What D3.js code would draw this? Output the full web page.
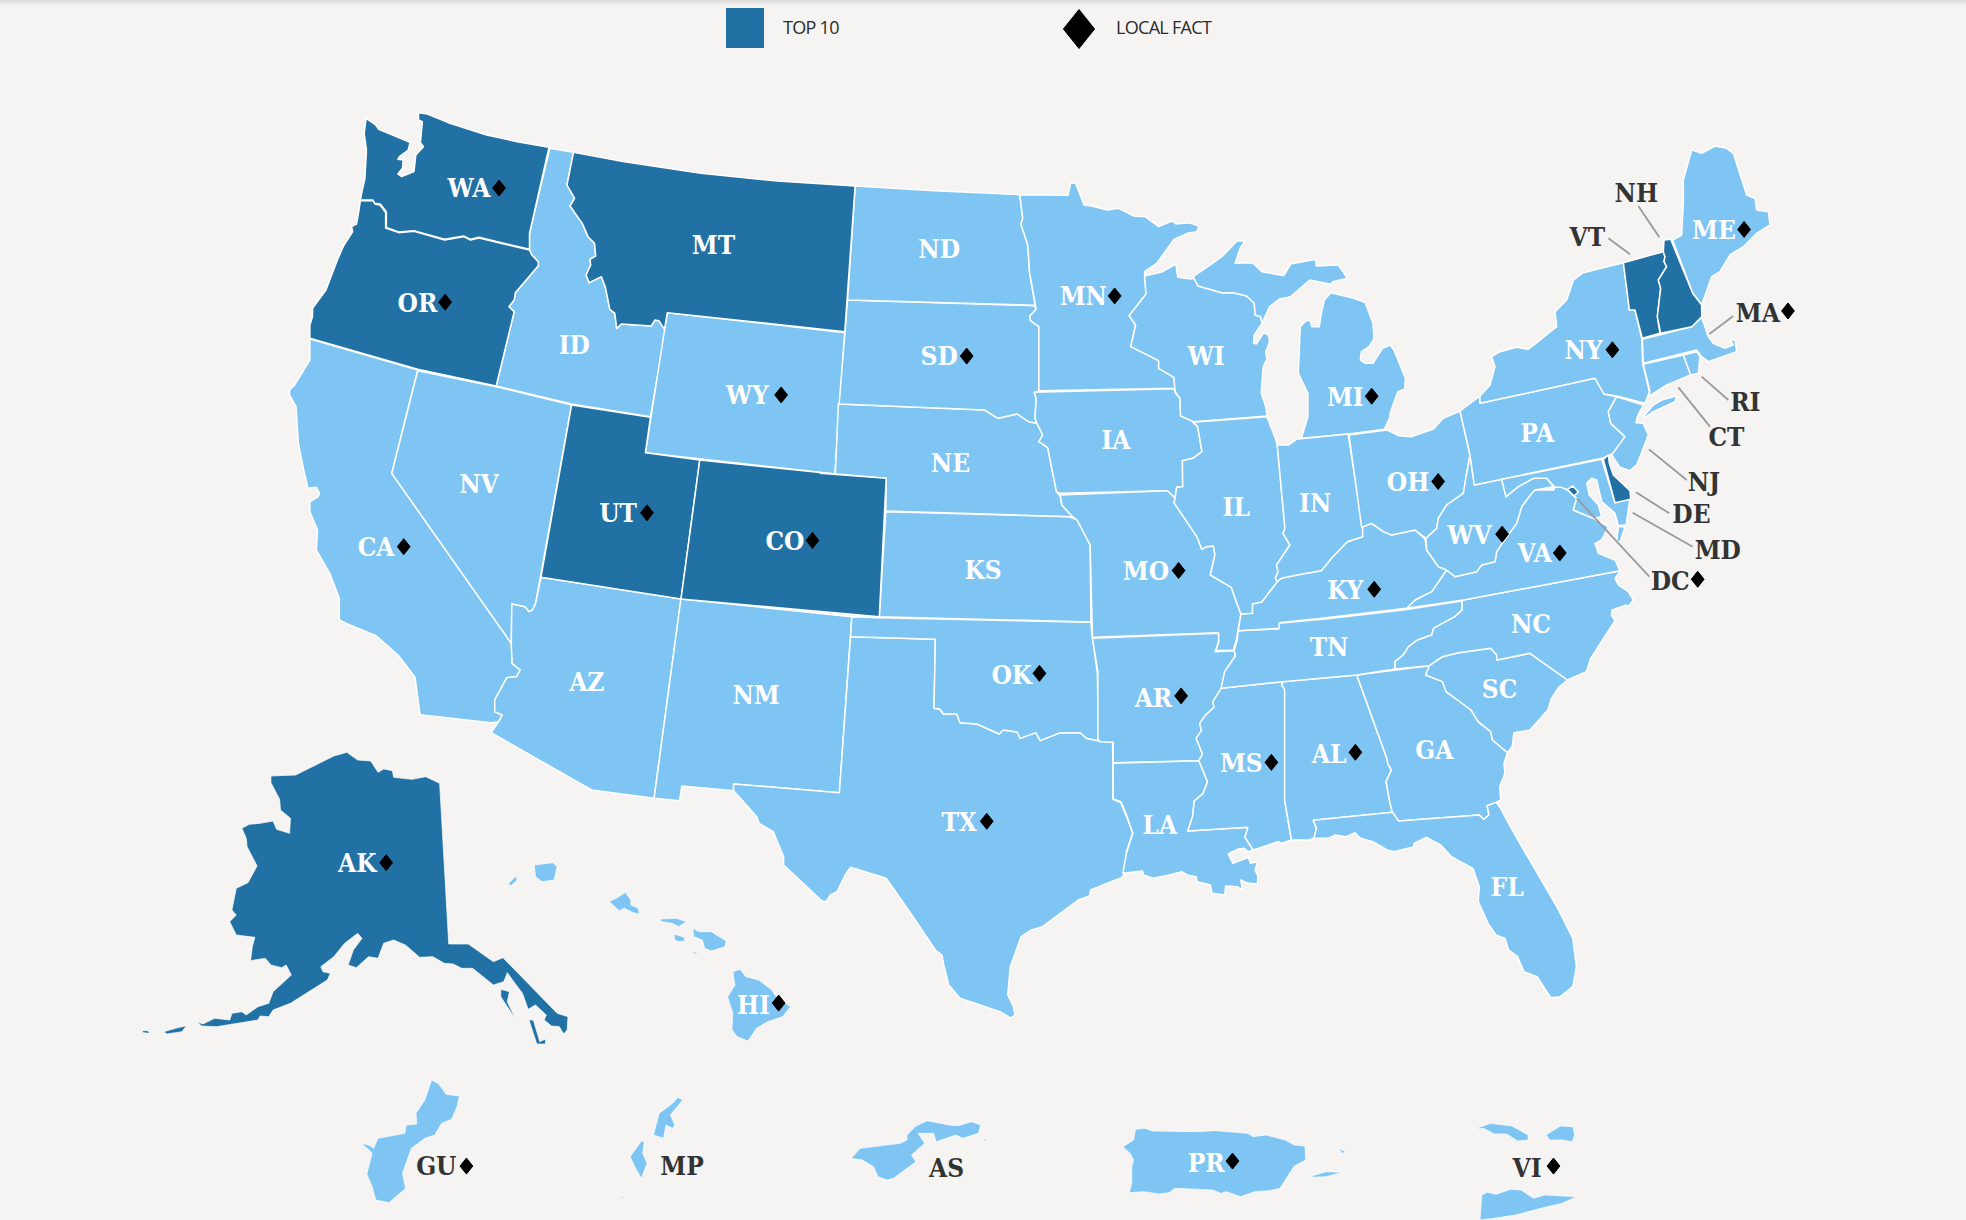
<!DOCTYPE html>
<html><head><meta charset="utf-8">
<script src="https://cdn.jsdelivr.net/npm/d3@7"></script>
<style>html,body{margin:0;padding:0;background:#f5f4f2;overflow:hidden}svg{display:block}</style>
</head><body><svg id="map" width="1966" height="1220"></svg>
<script>
// Traced outlines. Each ring is a string of vertices; a token such as "z1"
// names the survey frame (see frameNames/frameBoxes) the following vertices were read in.
const frameNames = ["o","z1","z2","z3","z4","z5","z6","z7","z8","z9"];
const frameBoxes = [[0,0,1966,1220,1568,973],[280,100,600,520,1568,1560],[820,150,600,520,1568,1560],[1300,130,500,480,1500,1440],[480,580,700,460,1568,1380],[1080,600,560,420,1568,1260],[130,740,680,320,1568,960],[340,1060,700,160,1568,480],[1080,1060,560,160,1568,480],[1560,420,220,200,660,600]];

const topTen = ["WA","OR","MT","UT","CO","AK","VT","NH","DE","DC"];
const thinOutline = ["AK","HI","GU","MP","AS","PR","VI"];

const shapeCodes = ["WA","OR","CA","NV","ID","MT","WY","UT","CO","AZ","NM","TX","OK","KS","NE","SD","ND","MN","WI","MI","IA","MO","AR","LA","MS","AL","GA","FL","SC","TN","NC","VA","KY","IL","IN","OH","WV","PA","NY","VT","NH","ME","MA","CT","RI","NJ","DE","MD","DC","AK","HI","GU","MP","AS","PR","VI"];
const shapeRings = [
["z1 225,55 250,75 258,88 335,125 340,128 335,150 312,170 308,178 322,180 320,205 308,222 318,230 350,215 355,165 375,140 367,128 372,65 362,60 362,38 385,42 440,68 540,105 620,125 703,142 652,400 652,448 520,412 498,418 480,408 430,418 350,392 310,396 278,382 278,335 262,312 247,310 243,300 210,300 215,270 222,235 226,150 220,100"],
["z1 210,302 243,302 248,312 262,316 276,338 276,384 310,398 350,394 430,420 480,410 498,420 520,414 652,450 658,465 675,485 675,497 615,578 612,600 598,620 612,635 565,858 360,808 78,715 78,675 85,650 85,625 120,570 150,480 165,440 190,395 187,380 200,372 205,340"],
["z1 78,717 360,810 292,1120 z4 70,190 72,250 90,270 82,290 60,293 33,360 33,395 50,405 42,425 25,428 o 335,570 331,540 318,523 300,507 278,498 z1 155,1560 155,1495 130,1420 95,1350 98,1290 78,1235 78,1205 100,1190 103,1180 95,1162 73,1165 62,1110 48,1030 42,920 25,885 25,870 38,855 78,780"],
["z1 360,812 565,860 762,915 668,1510 660,1530 650,1535 640,1520 606,1512 z4 70,190 z1 292,1120"],
["z1 705,145 767,157 750,255 770,295 758,318 790,370 805,410 822,430 825,468 810,478 812,495 800,525 808,548 840,530 850,560 862,628 875,640 880,685 892,672 970,678 980,660 990,662 1008,690 968,950 762,912 565,858 612,635 598,620 612,600 615,578 675,497 675,485 658,465 652,448 652,400"],
["z1 767,157 900,185 1100,220 1300,243 1503,258 1476,695 1012,638 1005,688 990,662 980,660 970,678 892,672 880,685 875,640 862,628 850,560 840,530 808,548 800,525 812,495 810,478 825,468 822,430 805,410 790,370 758,318 770,295 750,255"],
["z1 1012,638 1476,698 1450,1122 955,1058"],
["z1 762,915 968,952 955,1058 1097,1080 1048,1497 682,1432"],
["z1 1097,1080 1450,1122 z2 0,970 173,985 155,1400 z1 1048,1497"],
["z1 682,1432 1048,1497 z4 390,655 250,630 25,458 42,425 50,405 33,395 33,360 60,293 82,290 90,270 72,250 70,190 z1 606,1512 640,1520 650,1535 660,1530 668,1510"],
["z4 450,57 833,110 805,638 568,612 568,632 452,618 447,662 390,655"],
["z4 830,170 1020,178 1017,385 1030,387 1038,402 1068,402 1075,428 1113,432 1163,462 1172,450 1203,456 1210,475 1245,458 1255,482 1300,458 1345,458 1358,475 1385,482 1417,487 1418,658 1435,668 1450,715 1462,760 1448,815 1446,878 1437,893 1395,915 1368,930 1365,948 1340,960 1260,1040 1235,1050 1212,1070 1188,1160 1182,1245 1195,1280 1198,1305 1188,1314 1165,1295 1075,1255 1050,1215 1038,1150 1035,1125 1020,1110 965,1000 910,895 830,862 820,880 800,935 785,945 775,965 765,962 680,855 680,830 657,755 625,730 620,710 568,632 568,612 805,638"],
["z4 833,110 893,113 1368,127 1372,175 1383,280 1385,482 1358,475 1345,458 1300,458 1255,482 1245,458 1210,475 1203,456 1172,450 1163,462 1113,432 1075,428 1068,402 1038,402 1030,387 1017,385 1020,178 830,170"],
["z2 172,1085 650,1100 672,1110 706,1185 708,1416 155,1400"],
["z2 48,762 430,780 465,805 515,792 545,815 567,820 582,855 572,875 595,893 618,1025 628,1040 632,1065 660,1100 172,1083 173,985 40,972"],
["z2 72,450 560,467 565,478 548,498 550,512 572,530 572,722 560,730 565,745 562,805 567,820 545,815 515,792 465,805 430,780 50,762"],
["z2 92,108 300,122 522,134 530,205 525,222 543,285 548,370 562,466 72,450"],
["z2 522,134 648,136 655,100 668,100 690,165 710,168 750,180 780,175 820,198 850,200 885,230 920,213 930,222 965,218 990,228 985,245 960,250 925,268 880,340 848,365 852,432 808,497 825,525 812,590 885,632 885,655 925,682 928,715 572,722 572,530 550,512 548,498 565,478 548,370 543,285 525,222 530,205"],
["z2 848,378 895,365 930,342 935,382 968,387 978,385 988,408 1050,428 1080,428 1115,438 1135,460 1137,495 1152,500 1155,520 1135,555 1133,580 1140,582 1160,548 1172,555 1175,575 1165,605 1168,628 1158,650 1153,730 1165,770 1168,798 975,815 942,798 940,745 928,725 925,682 885,655 885,632 812,590 825,525 808,497 852,432"],
["z2 975,380 1020,345 1050,320 1090,273 1110,273 1098,295 1085,340 1130,338 1155,365 1212,377 1230,342 1295,328 1297,348 1355,345 1378,385 1340,395 1335,403 1280,390 1230,440 1200,447 1175,470 1155,520 1152,500 1137,495 1135,460 1115,438 1080,428 1050,428 988,408",
 "z2 1335,428 1395,445 1425,458 1445,520 1448,565 1435,590 1415,605 1412,630 1425,640 1445,640 1470,595 1490,585 1500,600 1530,685 1528,718 1510,725 1490,790 1490,800 1475,838 1382,852 1258,865 1275,800 1275,730 1250,670 1255,530 1270,512 1282,512 1285,530 1305,530 1310,490 1318,450"],
["z2 560,727 925,716 928,728 940,745 942,798 975,815 987,830 998,905 975,925 947,932 948,1010 932,1012 928,1045 908,1022 628,1030 618,1025 595,893 572,875 582,855 567,820 562,805 565,745"],
["z2 628,1035 908,1022 928,1045 925,1058 985,1160 998,1198 1010,1190 1028,1188 1032,1215 1020,1275 1075,1312 1088,1355 1100,1392 1088,1470 1080,1500 1035,1502 1042,1475 1040,1448 712,1462 706,1185 672,1110 660,1100 632,1065"],
["z5 35,115 388,100 388,125 378,155 432,152 435,168 405,215 397,265 372,305 375,322 352,345 335,370 340,392 325,415 343,462 333,482 93,488 93,427 55,425 50,415 50,215"],
["z5 93,490 333,482 357,545 345,580 320,603 315,650 302,693 470,682 462,712 485,750 470,755 460,745 440,748 415,762 428,790 465,775 470,770 478,790 498,785 490,810 498,828 497,852 472,850 450,840 455,870 440,860 408,858 405,885 370,880 365,855 328,845 325,830 300,825 285,815 250,825 205,835 178,825 175,813 120,820 130,760 148,700 132,650 115,605 93,597"],
["z5 395,265 568,245 565,255 573,268 573,600 592,720 565,730 555,725 485,750 462,712 470,682 302,693 315,650 320,603 345,580 357,545 333,482 343,462 325,415 340,392 335,370 352,345 375,322 372,305"],
["z5 568,245 775,225 860,478 862,492 872,510 857,545 868,610 875,637 653,661 662,685 655,715 640,720 592,720 573,600 573,268 565,255"],
["z5 775,225 978,197 968,225 1015,245 1025,275 1095,330 1115,365 1150,395 1155,420 1197,458 1187,490 1190,520 1175,560 1178,600 1165,607 1140,617 1145,645 1130,658 1118,645 892,663 875,637 868,610 857,545 872,510 862,492 860,478"],
["z5 653,661 875,637 892,663 1118,645 1130,658 1145,645 1140,617 1165,607 1178,625 1205,680 1245,755 1270,800 1340,930 1380,1015 1390,1100 1380,1160 1345,1190 1318,1193 1280,1130 1243,1115 1225,1070 1200,1050 1190,1015 1165,1005 1145,975 1115,905 1118,860 1100,805 1040,770 1010,735 970,712 935,730 935,740 880,755 860,750 820,725 785,715 770,698 745,710 715,705 695,715 655,715 662,685"],
["z5 978,197 1015,170 1060,158 1150,145 1167,165 1167,180 1260,160 1365,240 1340,262 1320,295 1310,330 1260,390 1215,398 1210,440 1197,458 1155,420 1150,395 1115,365 1095,330 1025,275 1015,245 968,225"],
["z5 443,92 555,87 555,70 680,58 905,30 1070,3 1070,30 1050,50 1015,70 990,85 985,105 945,120 920,140 905,165 882,185 882,207 775,225 568,245 395,265 405,215 435,168 432,152 440,120"],
["z3 962,1322 945,1345 955,1365 985,1385 1000,1410 985,1430 z5 1530,15 1490,30 1488,45 1498,62 1430,175 1418,215 1365,240 1260,160 1167,180 1167,165 1150,145 1060,158 1015,170 978,197 882,207 882,185 905,165 920,140 945,120 985,105 990,85 1015,70 1050,50 1070,30 1070,3 z3 490,1410"],
["z3 960,1322 490,1410 320,1435 345,1410 395,1385 440,1320 465,1340 530,1325 545,1305 585,1295 590,1265 610,1235 650,1180 665,1130 695,1090 705,1080 760,1080 765,1072 785,1072 803,1080 830,1105 820,1140 855,1155 880,1165 925,1190 905,1230 885,1240 895,1270 945,1290",
 "z3 955,1190 975,1190 960,1235 950,1235"],
["z2 1100,1392 1130,1390 1130,1362 1155,1355 1195,1295 1205,1285 1260,1272 1310,1262 1340,1220 1378,1175 1418,1160 z3 185,1192 215,1180 250,1205 275,1215 345,1200 375,1227 380,1260 415,1310 440,1320 395,1385 345,1410 320,1435 z2 1310,1405 1200,1418 1200,1435 1093,1442"],
["z2 975,817 1168,800 1190,865 1195,885 1215,1135 1210,1150 1228,1185 1193,1245 1197,1265 1190,1285 1195,1295 1155,1355 1130,1362 1130,1390 1100,1392 1088,1355 1075,1312 1020,1275 1032,1215 1028,1188 1010,1190 998,1198 985,1160 925,1058 928,1045 932,1012 948,1010 947,932 975,925 998,905 987,830"],
["z2 1195,885 1225,885 1245,868 1380,852 1418,1130 1418,1160 1378,1175 1340,1220 1310,1262 1260,1272 1205,1285 1195,1295 1190,1285 1197,1265 1193,1245 1228,1185 1210,1150 1215,1135"],
["z3 147,915 262,900 295,917 335,920 400,897 430,865 480,843 510,975 500,1030 490,1090 440,1125 415,1165 410,1195 378,1225 345,1200 275,1215 250,1205 215,1180 185,1192"],
["z3 510,975 523,1065 605,1048 618,1100 655,1070 700,1045 740,1045 760,1070 705,1080 695,1090 665,1130 650,1180 610,1235 590,1265 585,1295 545,1305 530,1325 465,1340 440,1320 415,1310 380,1260 378,1225 410,1195 415,1165 440,1125 490,1090 500,1030"],
["z3 480,843 540,798 540,820 885,745 912,792 950,800 925,845 932,880 975,920 940,970 905,985 523,1065 510,975"],
["z3 540,820 540,798 570,765 585,710 575,680 600,665 650,652 685,658 770,590 765,545 800,510 820,450 850,428 970,398 982,490 988,540 1005,540 1025,625 1028,700 1048,785 1035,820 950,798 912,792 885,745",
 "z3 1030,860 1060,825 1085,810 1130,797 1125,815 1060,845 1035,862"],
["z3 970,398 1090,365 1095,380 1092,395 1100,410 1075,450 1082,475 1072,560 1080,610 1027,625 1005,540 988,540 982,490"],
["z3 1092,330 1112,328 1178,490 1205,525 1205,560 1175,590 1082,610 1072,560 1082,475 1075,450 1100,410 1092,395 1095,380 1090,365"],
["z3 1118,330 1145,315 1150,215 1150,150 1175,60 1205,70 1245,48 1280,55 1300,70 1340,195 1365,205 1370,240 1405,245 1410,285 1370,310 1330,350 1290,375 1260,425 1235,440 1205,525 1178,490"],
["z3 1027,628 1175,590 1205,562 1215,590 1225,620 1240,640 1275,655 1300,645 1290,630 1305,630 1310,665 1240,690 1225,695 1205,680 1190,660 1030,700"],
["z3 1030,703 1150,675 1172,735 1100,765 1045,800 1050,785"],
["z3 1150,675 1190,665 1200,680 1195,730 1172,735"],
["z3 950,800 1030,825 1012,860 1008,878 1030,880 1045,915 1020,980 1010,1005 990,1022 960,1012 935,975 975,920 932,880 925,845"],
["z9 130,118 145,105 148,130 160,165 210,212 212,238 165,248"],
["z3 605,1048 905,988 945,1118 990,1105 978,1185 955,1187 945,1150 905,1115 890,1050 875,1045 860,1060 868,1095 895,1125 905,1160 880,1165 855,1155 820,1140 830,1105 803,1080 785,1072 765,1072 740,1045 700,1045 655,1070 618,1100"],
["z9 22,208 38,198 55,215 42,228"],
["z6 325,108 382,105 470,48 500,37 525,60 555,63 572,97 585,87 605,92 608,112 650,118 682,110 714,130 735,612 780,612 838,665 860,653 985,820 1010,830 1008,870 1000,882 990,860 972,858 955,840 960,825 935,795 918,808 905,760 885,725 870,698 862,725 838,735 790,685 765,685 745,672 725,670 698,650 668,652 635,615 608,600 585,610 572,655 550,650 522,683 503,675 515,630 535,595 525,580 495,610 470,650 440,680 445,695 462,700 455,720 370,790 330,810 320,830 300,828 295,840 200,860 165,858 155,845 168,852 195,835 230,840 235,820 258,815 268,825 295,800 320,790 330,755 372,705 360,675 350,683 325,675 312,655 278,662 282,620 288,592 245,585 230,545 245,525 235,510 245,445 272,428 293,378 270,320 268,295 258,265 275,253 300,250 330,243 338,268 368,280 370,235 347,210 345,178 325,128",
 "z6 855,748 875,755 870,785 890,840 880,820 855,770","z6 920,840 930,840 945,905 958,897 958,912 938,912","z6 78,875 105,865 130,857 120,875 85,882","z6 28,872 42,872 45,880 30,878"],
["z6 932,375 975,368 985,380 978,420 950,425 935,410","z6 873,430 890,408 893,420 878,438","z6 1105,485 1125,472 1142,457 1155,480 1155,495 1172,505 1175,522 1160,518 1140,505 1128,512","z6 1222,537 1260,535 1283,545 1265,560 1250,550 1225,545","z6 1255,582 1278,592 1280,603 1265,605 1255,598","z6 1298,565 1312,575 1340,575 1375,603 1372,620 1340,633 1325,625 1320,600 1300,590","z6 1292,636 1310,637 1305,643","z6 1390,695 1407,688 1420,710 1450,720 1480,750 1490,770 1523,800 1505,830 1470,845 1445,865 1425,903 1400,890 1388,870 1390,820 1378,770 1395,735"],
["z7 205,60 220,70 238,103 268,108 262,140 250,178 228,190 212,225 190,235 160,265 140,340 147,385 110,428 80,420 72,380 60,342 72,280 65,270 47,250 65,255 75,265 85,235 145,220 148,195 172,192 170,160 190,120"],
["z7 757,112 768,120 740,165 750,195 745,205 730,195 725,235 702,225 715,160 745,130","z7 675,243 682,245 678,280 688,310 675,355 660,320 650,290","z7 628,412 640,405 630,416"],
["z7 1145,295 1165,265 1255,250 1270,240 1270,225 1290,198 1315,182 1365,195 1385,197 1415,185 1435,195 1430,220 1395,235 1380,225 1335,245 1330,220 1295,220 1310,250 1280,285 1290,305 1240,355 1225,360 1205,350 1195,320 1170,300","z7 1440,237 1450,237 1445,243"],
["z8 155,208 180,205 205,213 320,215 380,212 470,220 485,230 520,225 575,240 600,255 630,258 632,300 600,318 560,385 530,392 490,395 450,410 410,395 395,400 370,390 265,385 250,398 220,402 180,395 138,398 145,370 145,320 150,300 140,280 120,260 150,240","z8 722,265 745,275 735,280","z8 648,348 690,335 735,337 690,350 655,352"],
["z8 1103,207 1150,190 1210,198 1255,225 1255,240 1225,243 1195,222 1160,222 1130,205","z8 1305,225 1345,198 1380,200 1385,225 1378,245 1350,240 1315,240","z8 1125,405 1140,397 1165,403 1205,388 1235,390 1270,415 1300,405 1390,410 1350,430 1290,445 1220,465 1160,475 1120,480"]
];

// Text labels: code and centre, read in frame "o".
const labelCodes = ["WA","OR","MT","ID","WY","NV","UT","CO","CA","AZ","NM","ND","SD","NE","KS","OK","TX","MN","IA","MO","AR","LA","WI","IL","MI","IN","OH","KY","TN","MS","AL","GA","FL","SC","NC","WV","VA","PA","NY","ME","AK","HI","PR"];
const labelSpots = ["374,150","333,241","569,195","458,275","596,315","382,386","493,409","626,431","300,436","468,544","603,554","749,198","749,284","758,369","784,454","807,538","765,655","864,236","890,351","914,455","920,556","925,658","962,284","986,404","1073,316","1049,401","1123,384","1073,470","1060,516","990,608","1060,601","1144,598","1202,707","1196,549","1221,497","1172,426","1224,441","1226,345","1263,279","1367,183","285,688","601,801","962,927"];
const outerCodes = ["NH","VT","MA","RI","CT","NJ","DE","MD","DC","GU","MP","AS","VI"];
const outerSpots = ["1305,154","1266,189","1402,249","1392,320","1377,348","1359,384","1349,410","1370,438","1332,463","348,930","544,930","755,931","1218,931"];
// Local-fact markers
const factSpots = ["398,150","355,241","623,315","516,409","648,431","322,436","771,284","829,537","787,655","889,236","940,455","942,555","1094,316","1147,384","1096,470","1014,608","1081,600","1198,426","1244,441","1286,279","1391,183","308,688","621,800","983,926","1426,248","1354,462","372,930","1239,930"];
// Leader lines, frame "z3"
const leaderLines = ["1015,228 1078,322","925,325 990,373","1300,558 1228,612","1285,810 1205,740","1230,890 1135,772","1160,1050 1047,958","1108,1150 1008,1087","1178,1250 998,1148","1048,1340 830,1105"];
const legendLabels = ["TOP 10","LOCAL FACT"];

const LIGHT="#7fc5f3", DARK="#2171a5", INK="#333333";
const frames = new Map(frameNames.map((n,i)=>{const [x,y,w,h,dw,dh]=frameBoxes[i];
  return [n,{x:d3.scaleLinear().domain([0,dw]).range([x,x+w]),y:d3.scaleLinear().domain([0,dh]).range([y,y+h])}];}));
function parseRing(s,frame){let f=frames.get(frame||"o");const out=[];
  s.trim().split(/\s+/).forEach(t=>{ if(frames.has(t)){f=frames.get(t);return;}
    const [a,b]=t.split(",").map(Number); out.push([f.x(a),f.y(b)]);});
  return out;}
const line=d3.line().curve(d3.curveLinearClosed);
const svg=d3.select("#map");
const defs=svg.append("defs");
const grad=defs.append("linearGradient").attr("id","topshade").attr("x1",0).attr("x2",0).attr("y1",0).attr("y2",1);
grad.append("stop").attr("offset",0).attr("stop-color","#dedddb");
grad.append("stop").attr("offset",1).attr("stop-color","#f5f4f2");
svg.append("rect").attr("width",1966).attr("height",1220).attr("fill","#f5f4f2");
svg.append("rect").attr("width",1966).attr("height",6).attr("fill","url(#topshade)");

const topSet=new Set(topTen), thinSet=new Set(thinOutline);
const shapes=shapeCodes.map((c,i)=>({code:c,d:shapeRings[i].map(r=>line(parseRing(r))).join("")}));
shapes.sort((a,b)=>topSet.has(a.code)-topSet.has(b.code));
svg.append("g").selectAll("path").data(shapes).join("path")
  .attr("d",d=>d.d).attr("fill",d=>topSet.has(d.code)?DARK:LIGHT)
  .attr("stroke","#ffffff").attr("stroke-width",d=>thinSet.has(d.code)?0.7:1.5).attr("stroke-linejoin","round");

svg.append("g").selectAll("line").data(leaderLines.map(s=>parseRing(s,"z3"))).join("line")
  .attr("x1",d=>d[0][0]).attr("y1",d=>d[0][1]).attr("x2",d=>d[1][0]).attr("y2",d=>d[1][1])
  .attr("stroke","#9a9a9a").attr("stroke-width",1.8);

const serif='"DejaVu Serif Condensed","DejaVu Serif",serif';
function labels(codes,spots,fill){
  svg.append("g").selectAll("text").data(codes).join("text")
   .attr("x",(d,i)=>parseRing(spots[i])[0][0]).attr("y",(d,i)=>parseRing(spots[i])[0][1])
   .attr("dy","0.36em").attr("text-anchor","middle")
   .attr("font-family",serif).attr("font-weight",700).attr("font-size",26)
   .attr("fill",fill).text(d=>d);
}
labels(labelCodes,labelSpots,"#ffffff");
labels(outerCodes,outerSpots,INK);

const rhomb={draw(ctx,size){const h=Math.sqrt(size),w=h*0.8;ctx.moveTo(0,-h);ctx.lineTo(w,0);ctx.lineTo(0,h);ctx.lineTo(-w,0);ctx.closePath();}};
const markerPath=d3.symbol().type(rhomb);
svg.append("g").selectAll("path").data(factSpots.map(s=>parseRing(s)[0])).join("path")
  .attr("d",markerPath.size(64)()).attr("transform",d=>`translate(${d[0]},${d[1]})`)
  .attr("fill","#000").attr("stroke","#000").attr("stroke-width",1).attr("stroke-linejoin","round");

// legend
const lg=svg.append("g");
lg.append("rect").attr("x",726).attr("y",8).attr("width",38).attr("height",40).attr("fill",DARK);
lg.append("path").attr("d",markerPath.size(380)()).attr("transform","translate(1079,29)").attr("fill","#000").attr("stroke","#000").attr("stroke-width",1).attr("stroke-linejoin","round");
lg.selectAll("text").data(legendLabels).join("text")
  .attr("x",(d,i)=>i?1116:783).attr("y",34).attr("font-family",'"Open Sans",sans-serif')
  .attr("font-size",18).attr("letter-spacing",-0.7).attr("fill","#2b2b2b").text(d=>d);
</script></body></html>
